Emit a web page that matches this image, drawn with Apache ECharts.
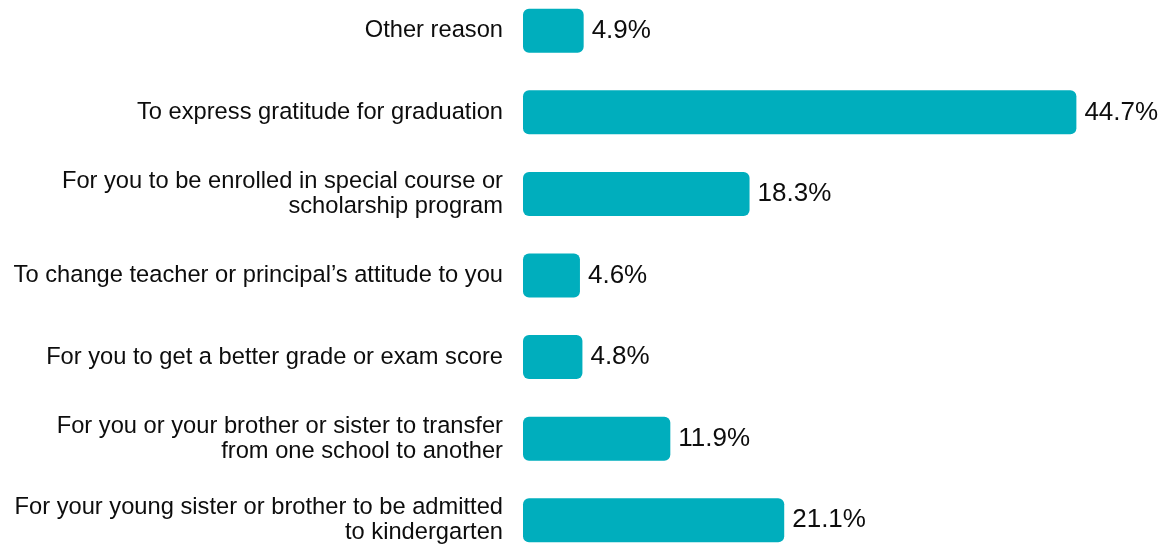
<!DOCTYPE html>
<html>
<head>
<meta charset="utf-8">
<title>Reasons</title>
<script src="https://cdn.jsdelivr.net/npm/echarts@6/dist/echarts.min.js"></script>
<style>
  html, body { margin: 0; padding: 0; background: #fff; }
  #chart { width: 1173px; height: 550px; }
</style>
</head>
<body>
<div id="chart"></div>
<script>
// Reasons, listed top to bottom
const categories = [
  'Other reason',
  'To express gratitude for graduation',
  'For you to be enrolled in special course or\nscholarship program',
  'To change teacher or principal\u2019s attitude to you',
  'For you to get a better grade or exam score',
  'For you or your brother or sister to transfer\nfrom one school to another',
  'For your young sister or brother to be admitted\nto kindergarten'
];
// Share of respondents, percent
const shares = [4.9, 44.7, 18.3, 4.6, 4.8, 11.9, 21.1];

const FONT = '"Liberation Sans", Arial, sans-serif';

const chart = echarts.init(document.getElementById('chart'));
chart.setOption({
  animation: false,
  textStyle: { fontFamily: FONT },
  grid: { left: 523, right: 31, top: -10, bottom: -11, outerBoundsMode: 'none', containLabel: false },
  xAxis: {
    type: 'value', min: 0, max: 50, show: false
  },
  yAxis: {
    type: 'category',
    data: categories,
    inverse: true,
    axisLine: { show: false },
    axisTick: { show: false },
    axisLabel: {
      margin: 20,
      fontSize: 23.7,
      lineHeight: 25,
      fontFamily: FONT,
      color: '#0d0d0d',
      align: 'right'
    }
  },
  series: [{
    type: 'bar',
    data: shares,
    barWidth: 44,
    itemStyle: { color: '#00AEBD', borderRadius: 6 },
    label: {
      show: true,
      position: 'right',
      distance: 8,
      fontSize: 26,
      fontFamily: FONT,
      color: '#0d0d0d',
      formatter: p => p.value.toFixed(1) + '%'
    }
  }]
});
</script>
</body>
</html>
